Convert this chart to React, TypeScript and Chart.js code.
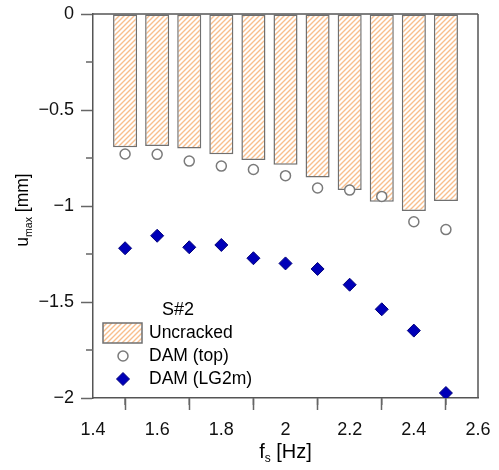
import React, { useEffect, useRef } from "react";
import { Chart, registerables } from "chart.js";
Chart.register(...registerables);

// ---- data ----
const freqs = [1.5, 1.6, 1.7, 1.8, 1.9, 2.0, 2.1, 2.2, 2.3, 2.4, 2.5];
const uncracked = [-0.694, -0.688, -0.7, -0.731, -0.76, -0.785, -0.851, -0.917, -0.978, -1.026, -0.974];
const damTop = [-0.729, -0.731, -0.766, -0.792, -0.81, -0.842, -0.906, -0.917, -0.95, -1.082, -1.123];
const damLG2m = [-1.22, -1.155, -1.215, -1.203, -1.272, -1.299, -1.328, -1.41, -1.538, -1.649, -1.974];
const xMinorTicks = [1.5, 1.7, 1.9, 2.1, 2.3, 2.5];
const yMinorTicks = [-0.25, -0.75, -1.25, -1.75];
const legendTitle = "S#2";
const seriesNames = ["Uncracked", "DAM (top)", "DAM (LG2m)"];

const FONT = "'Liberation Sans', Arial, Helvetica, sans-serif";
const AXIS = "#555555";
const BAR_BORDER = "#707070";
const CIRCLE_BORDER = "#7a7a7a";
const DIAMOND = "#0000b8";
const DIAMOND_BORDER = "#00007a";

function makeHatch(): CanvasPattern | string {
  const s = 5;
  const c = document.createElement("canvas");
  c.width = s;
  c.height = s;
  const g = c.getContext("2d");
  if (!g) return "#fbd9bd";
  g.fillStyle = "#ffffff";
  g.fillRect(0, 0, s, s);
  g.strokeStyle = "#f8bf8e";
  g.lineWidth = 1.4;
  g.beginPath();
  g.moveTo(-1, 1);
  g.lineTo(1, -1);
  g.moveTo(0, s);
  g.lineTo(s, 0);
  g.moveTo(s - 1, s + 1);
  g.lineTo(s + 1, s - 1);
  g.stroke();
  const p = g.createPattern(c, "repeat");
  return p || "#fbd9bd";
}

export default function App() {
  const ref = useRef<HTMLCanvasElement | null>(null);

  useEffect(() => {
    const canvas = ref.current;
    if (!canvas) return;
    const hatch = makeHatch();

    const decor = {
      id: "decor",
      afterDraw(chart: any) {
        const ctx = chart.ctx as CanvasRenderingContext2D;
        const { left, right, top, bottom } = chart.chartArea;
        const xs = chart.scales.x;
        const ys = chart.scales.y;
        ctx.save();
        // minor ticks
        ctx.strokeStyle = "#666666";
        ctx.lineWidth = 1.5;
        ctx.beginPath();
        xMinorTicks.forEach((v) => {
          const px = xs.getPixelForValue(v);
          ctx.moveTo(px, bottom);
          ctx.lineTo(px, bottom + 7);
        });
        yMinorTicks.forEach((v) => {
          const py = ys.getPixelForValue(v);
          ctx.moveTo(left, py);
          ctx.lineTo(left - 7, py);
        });
        ctx.stroke();
        // frame top & right
        ctx.strokeStyle = AXIS;
        ctx.lineWidth = 1.5;
        ctx.beginPath();
        ctx.moveTo(left, top);
        ctx.lineTo(right, top);
        ctx.moveTo(right, top);
        ctx.lineTo(right, bottom);
        ctx.stroke();

        // legend
        ctx.fillStyle = "#000";
        ctx.textBaseline = "middle";
        ctx.font = `18px ${FONT}`;
        ctx.textAlign = "center";
        ctx.fillText(legendTitle, left + 85, bottom - 88);
        ctx.textAlign = "left";
        ctx.font = `17.5px ${FONT}`;
        // box
        ctx.fillStyle = hatch as any;
        ctx.fillRect(left + 10, bottom - 75, 39, 20);
        ctx.strokeStyle = BAR_BORDER;
        ctx.lineWidth = 1.5;
        ctx.strokeRect(left + 10, bottom - 75, 39, 20);
        // circle
        ctx.beginPath();
        ctx.arc(left + 30, bottom - 42, 5, 0, Math.PI * 2);
        ctx.fillStyle = "#fff";
        ctx.fill();
        ctx.strokeStyle = CIRCLE_BORDER;
        ctx.stroke();
        // diamond
        const dx = left + 30;
        const dy = bottom - 19;
        const r = 6.5;
        ctx.beginPath();
        ctx.moveTo(dx, dy - r);
        ctx.lineTo(dx + r, dy);
        ctx.lineTo(dx, dy + r);
        ctx.lineTo(dx - r, dy);
        ctx.closePath();
        ctx.fillStyle = DIAMOND;
        ctx.fill();
        ctx.strokeStyle = DIAMOND_BORDER;
        ctx.lineWidth = 1;
        ctx.stroke();
        ctx.fillStyle = "#000";
        ctx.fillText(seriesNames[0], left + 56, bottom - 65);
        ctx.fillText(seriesNames[1], left + 56, bottom - 42);
        ctx.fillText(seriesNames[2], left + 56, bottom - 19);

        // x title: f_s [Hz]
        const mainX = `20px ${FONT}`;
        const subX = `12px ${FONT}`;
        ctx.textBaseline = "alphabetic";
        ctx.font = mainX;
        const wf = ctx.measureText("f").width;
        const wr = ctx.measureText(" [Hz]").width;
        ctx.font = subX;
        const ws = ctx.measureText("s").width;
        const totalX = wf + ws + wr;
        const cx = (left + right) / 2;
        let x0 = cx - totalX / 2;
        const by = bottom + 60;
        ctx.font = mainX;
        ctx.fillText("f", x0, by);
        x0 += wf;
        ctx.font = subX;
        ctx.fillText("s", x0, by + 4);
        x0 += ws;
        ctx.font = mainX;
        ctx.fillText(" [Hz]", x0, by);

        // y title: u_max [mm]
        const mainY = `17.5px ${FONT}`;
        const subY = `10.5px ${FONT}`;
        ctx.font = mainY;
        const wu = ctx.measureText("u").width;
        const wmm = ctx.measureText(" [mm]").width;
        ctx.font = subY;
        const wmax = ctx.measureText("max").width;
        const totalY = wu + wmax + wmm;
        ctx.translate(28, (top + bottom) / 2 + 4);
        ctx.rotate(-Math.PI / 2);
        let y0 = -totalY / 2;
        ctx.font = mainY;
        ctx.fillText("u", y0, 0);
        y0 += wu;
        ctx.font = subY;
        ctx.fillText("max", y0, 4);
        y0 += wmax;
        ctx.font = mainY;
        ctx.fillText(" [mm]", y0, 0);
        ctx.restore();
      },
    };

    const fmt = (v: any) => {
      const n = Math.round(Number(v) * 10) / 10;
      return String(n).replace("-", "\u2212");
    };

    const chart = new Chart(canvas, {
      type: "scatter",
      data: {
        datasets: [
          {
            type: "bar",
            label: seriesNames[0],
            data: freqs.map((x, i) => ({ x, y: uncracked[i] })),
            backgroundColor: hatch as any,
            borderColor: BAR_BORDER,
            borderWidth: 1.5,
            borderSkipped: false,
            barPercentage: 0.75,
            categoryPercentage: 1,
            order: 3,
          } as any,
          {
            type: "scatter",
            label: seriesNames[1],
            data: freqs.map((x, i) => ({ x, y: damTop[i] })),
            pointStyle: "circle",
            pointRadius: 5,
            backgroundColor: "#ffffff",
            borderColor: CIRCLE_BORDER,
            borderWidth: 1.5,
            order: 2,
          },
          {
            type: "scatter",
            label: seriesNames[2],
            data: freqs.map((x, i) => ({ x, y: damLG2m[i] })),
            pointStyle: "rectRot",
            pointRadius: 6.5,
            backgroundColor: DIAMOND,
            borderColor: DIAMOND_BORDER,
            borderWidth: 1,
            order: 1,
          },
        ],
      },
      options: {
        responsive: false,
        animation: false,
        devicePixelRatio: 1,
        layout: { padding: { top: 14, right: 21, left: 0, bottom: 0 } },
        plugins: { legend: { display: false }, tooltip: { enabled: false } },
        scales: {
          x: {
            type: "linear",
            min: 1.4,
            max: 2.6,
            offset: false,
            afterFit: (s: any) => {
              s.height = 72;
              s.paddingLeft = 0;
              s.paddingRight = 0;
            },
            border: { display: true, color: AXIS, width: 1.5 },
            grid: {
              display: true,
              drawOnChartArea: false,
              drawTicks: true,
              tickLength: 12,
              tickColor: "#666666",
              tickWidth: 1.5,
            },
            ticks: {
              stepSize: 0.2,
              padding: 9,
              color: "#111",
              font: { size: 18, family: FONT },
              maxRotation: 0,
              callback: fmt,
            },
          },
          y: {
            type: "linear",
            min: -2,
            max: 0,
            afterFit: (s: any) => {
              s.width = 93;
              s.paddingTop = 0;
              s.paddingBottom = 0;
            },
            border: { display: true, color: AXIS, width: 1.5 },
            grid: {
              display: true,
              drawOnChartArea: false,
              drawTicks: true,
              tickLength: 12,
              tickColor: "#666666",
              tickWidth: 1.5,
            },
            ticks: {
              stepSize: 0.5,
              padding: 7,
              color: "#111",
              font: { size: 18, family: FONT },
              callback: fmt,
            },
          },
        },
      } as any,
      plugins: [decor],
    });
    return () => chart.destroy();
  }, []);

  return (
    <div style={{ position: "absolute", left: 0, top: 0, width: 499, height: 470, background: "#fff" }}>
      <canvas ref={ref} width={499} height={470} style={{ width: 499, height: 470, display: "block" }} />
    </div>
  );
}
